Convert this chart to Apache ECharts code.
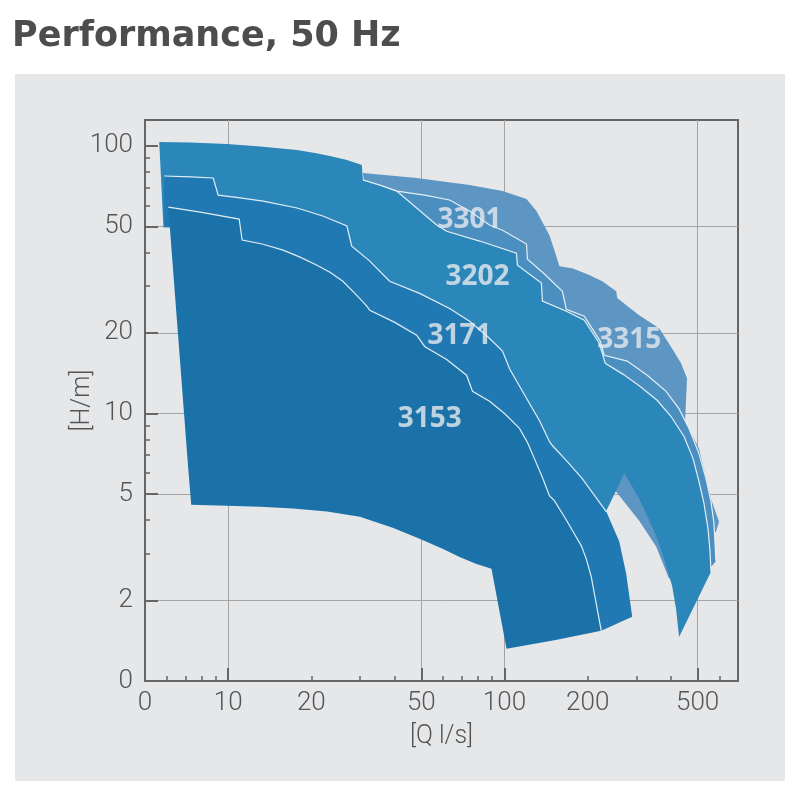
<!DOCTYPE html>
<html>
<head>
<meta charset="utf-8">
<title>Performance, 50 Hz</title>
<script src="https://cdn.jsdelivr.net/npm/echarts@6/dist/echarts.min.js"></script>
<style>
  html, body { margin: 0; padding: 0; background: #fff; }
  #chart { width: 800px; height: 800px; }
</style>
</head>
<body>
<div id="chart"></div>
<script>
// 泵型号（从后往前画）
const pumpNames = ['3315', '3301', '3202', '3171', '3153'];

// 每个型号的工作范围，点为 [Q l/s, H m]
// cap: 左上角外缘（无白线），upper: 上边界（白线），lower: 其余轮廓
const cap3315 = [];
const upper3315 = [
  [30.72, 79.2], [48.1, 75.9], [74.75, 71.4], [98.35, 67.8], [120.1, 63.3],
  [130.5, 57.1], [145.4, 46.4], [152.8, 39.7], [158, 35.5], [176, 34.9],
  [202.7, 32.9], [225.9, 31.2], [253.7, 28.6], [255.8, 27.0], [282.7, 24.9],
  [307.2, 23.3], [362.8, 20.8], [404.2, 17.5], [435.5, 15.4], [457.8, 13.5],
  [450.3, 9.33], [505.8, 7.39], [558.9, 4.80], [597.5, 3.94], [582.7, 3.61]
];
const lower3315 = [
  [465.5, 2.99], [394.2, 2.41], [353.8, 3.18], [307.2, 3.97], [253.7, 5.10],
  [220.3, 6.22], [95.9, 16.1], [41.8, 41.5], [31.24, 69.6]
];

const cap3301 = [];
const upper3301 = [
  [30.72, 74.6], [40.75, 67.8], [51.43, 65.5], [63.3, 62.8], [74.75, 57.1],
  [88.3, 50.6], [98.35, 48.4], [120.1, 43.0], [121.1, 37.7], [139.5, 33.2],
  [162, 28.6], [167.4, 24.5], [194.5, 23.1], [222.2, 18.6], [229.6, 16.5],
  [278, 15.7], [328.4, 13.9], [384.5, 12.1], [428.4, 10.4], [465.5, 8.79],
  [505.8, 7.08], [536.1, 5.71], [558.9, 4.68], [573.1, 3.87], [582.7, 2.81]
];
const lower3301 = [
  [558.9, 2.67], [465.5, 2.86], [333.9, 6.22], [158, 13.5], [63.3, 34.9],
  [35.4, 63.9], [30.72, 72.1]
];

const cap3202 = [
  [5.63, 103.5], [7.29, 103.1], [9.92, 101.7], [13.05, 99.6], [17.75, 96.6],
  [20.61, 94.1], [23.35, 91.7], [26.9, 88.6], [30.46, 84.9]
];
const upper3202 = [
  [30.72, 74.6], [35.38, 71.4], [40.75, 67.8], [48.1, 58.6], [56.8, 50.6],
  [61.74, 48.0], [81.24, 44.1], [110.5, 39.7], [111.4, 35.8], [136, 30.7],
  [137.2, 26.3], [167.4, 24.1], [194.5, 22.3], [220.3, 18.3], [231.6, 15.4],
  [269, 14.0], [307.2, 12.7], [356.8, 11.2], [400.8, 9.74], [446.5, 8.20],
  [481.3, 6.78], [505.8, 5.56], [527.3, 4.60], [545.1, 3.71], [554.2, 3.07],
  [558.9, 2.56]
];
const lower3202 = [
  [428.4, 1.46], [417.8, 1.86], [404.2, 2.27], [378.2, 2.86], [353.8, 3.49],
  [328.4, 4.15], [307.2, 4.80], [287.4, 5.42], [271.3, 5.96], [253.7, 5.15],
  [233.5, 4.33], [202.7, 4.04], [95.9, 11.4], [41.8, 27.0], [18.2, 49.3],
  [7.92, 56.1], [6.17, 49.7], [5.83, 49.7]
];

const cap3171 = [];
const upper3171 = [
  [5.87, 77.2], [7.29, 76.6], [8.83, 75.9], [9.2, 65.5], [11.05, 63.9],
  [13.38, 62.2], [17.75, 58.6], [22.0, 54.7], [26.9, 50.2], [28.0, 42.2],
  [32.55, 37.1], [38.4, 31.2], [49.3, 28.1], [63.3, 24.7], [74.75, 22.1],
  [86.8, 19.4], [98.35, 17.1], [104.3, 14.7], [120.1, 11.4], [133.8, 9.41],
  [145.4, 7.86], [149, 7.59], [168.8, 6.61], [191.2, 5.71], [233.5, 4.30]
];
const lower3171 = [
  [260.2, 3.32], [275.6, 2.52], [289.9, 1.74], [224, 1.54], [171.7, 2.86],
  [81.2, 8.79], [27.6, 22.7], [12.0, 38.1], [6.71, 47.2], [6.17, 49.7],
  [5.87, 49.7]
];

const cap3153 = [];
const upper3153 = [
  [6.07, 59.1], [7.92, 56.6], [10.96, 53.3], [11.23, 44.5], [13.27, 43.0],
  [15.8, 40.8], [18.2, 38.4], [20.96, 35.8], [23.35, 33.7], [26.0, 31.2],
  [28.74, 28.1], [31.75, 25.2], [32.55, 24.3], [40.08, 21.9], [48.1, 19.6],
  [51.4, 17.8], [61.74, 15.9], [72.9, 13.9], [76.6, 12.1], [88.3, 11.1],
  [100, 10], [113.3, 8.79], [121.1, 7.79], [128.3, 6.78], [137.2, 5.76],
  [145.4, 4.93], [151.5, 4.72], [164.7, 4.11], [178.9, 3.55], [189.7, 3.20],
  [197.7, 2.86], [206.1, 2.45], [213.1, 2.03], [224, 1.54]
];
const lower3153 = [
  [151.5, 1.42], [101.7, 1.32], [89.75, 2.63], [79.2, 2.74], [68.8, 2.91],
  [59.7, 3.12], [49.3, 3.40], [39.4, 3.74], [29.96, 4.11], [22.77, 4.30],
  [17.17, 4.41], [13.05, 4.48], [9.92, 4.52], [7.35, 4.56], [7.17, 6.22]
];

// 型号标注位置
const labelQ = [282.7, 74.7, 79.9, 68.8, 53.6];
const labelH = [18.8, 52.8, 32.3, 19.4, 9.5];

// 坐标轴
const xMin = 5, xMax = 700;
const yMin = 1, yMax = 125;
const xLabelValues = [5, 10, 20, 50, 100, 200, 500];
const xLabelText = ['0', '10', '20', '50', '100', '200', '500'];
const xMajorTicks = [10, 50, 100, 500];
const xMinorTicks = [6, 7, 8, 9, 20, 30, 40, 60, 70, 80, 90, 200, 300, 400, 600];
const yLabelValues = [1, 2, 5, 10, 20, 50, 100];
const yLabelText = ['0', '2', '5', '10', '20', '50', '100'];
const yMajorTicks = [2, 5, 10, 20, 50];
const yTopTicks = [100];
const yMinorTicks = [3, 4, 6, 7, 8, 9, 30, 40, 60, 70, 80, 90];

const ranges = {
  '3315': { cap: cap3315, upper: upper3315, lower: lower3315 },
  '3301': { cap: cap3301, upper: upper3301, lower: lower3301 },
  '3202': { cap: cap3202, upper: upper3202, lower: lower3202 },
  '3171': { cap: cap3171, upper: upper3171, lower: lower3171 },
  '3153': { cap: cap3153, upper: upper3153, lower: lower3153 }
};

const fillColors = {
  '3315': '#5d96c2',
  '3301': '#4b8ec0',
  '3202': '#2b86b9',
  '3171': '#2079b2',
  '3153': '#1a72a8'
};
const edgeColor = 'rgba(236,243,248,0.95)';
const textColor = '#555555';
const tickColor = '#666666';
const labelFont = 'Roboto, "Noto Sans", sans-serif';

const lookup = (values, texts) => (v) => {
  const i = values.findIndex((t) => Math.abs(t - v) / t < 1e-6);
  return i < 0 ? '' : texts[i];
};

// 对数轴的基础配置
function logAxis(dim, extra) {
  const isX = dim === 'x';
  return Object.assign({
    type: 'log',
    logBase: 10,
    min: isX ? xMin : yMin,
    max: isX ? xMax : yMax,
    position: isX ? 'bottom' : 'left',
    axisLine: { show: false },
    axisTick: { show: false },
    axisLabel: { show: false },
    splitLine: { show: false }
  }, extra);
}

const majorTick = (values) => ({
  show: true, inside: true, length: 13, customValues: values,
  lineStyle: { color: tickColor, width: 2 }
});
const minorTick = (values) => ({
  show: true, inside: true, length: 5, customValues: values,
  lineStyle: { color: tickColor, width: 1.5 }
});
const gridLine = { show: true, lineStyle: { color: '#a4a4a4', width: 1 } };
const axisLine = { show: true, lineStyle: { color: tickColor, width: 2 } };
const axisText = { fontFamily: labelFont, fontWeight: 300, fontSize: 26, color: textColor };
const nameText = { fontFamily: labelFont, fontWeight: 300, fontSize: 25, color: textColor };

function rangeSeries(name, withEdge) {
  const r = ranges[name];
  const outline = r.cap.concat(r.upper, r.lower);
  return {
    type: 'custom',
    name: name,
    coordinateSystem: 'cartesian2d',
    xAxisIndex: 0,
    yAxisIndex: 0,
    silent: true,
    data: [outline[0]],
    renderItem: (params, api) => {
      const pts = outline.map((p) => api.coord(p));
      const children = [{
        type: 'polygon',
        shape: { points: pts },
        style: { fill: fillColors[name] }
      }];
      if (withEdge) {
        children.push({
          type: 'polyline',
          shape: { points: r.upper.map((p) => api.coord(p)) },
          style: { stroke: edgeColor, lineWidth: 1.2, fill: null }
        });
      }
      return { type: 'group', children: children };
    }
  };
}

const chart = echarts.init(document.getElementById('chart'));

chart.setOption({
  animation: false,
  backgroundColor: '#ffffff',
  title: {
    text: 'Performance, 50 Hz',
    left: 12,
    top: 19,
    padding: 0,
    textStyle: {
      fontFamily: '"DejaVu Sans", sans-serif',
      fontWeight: 'bold',
      fontSize: 35,
      color: '#4d4d4d'
    }
  },
  graphic: [{
    type: 'rect',
    z: -10,
    silent: true,
    shape: { x: 15, y: 74, width: 770, height: 707 },
    style: { fill: '#e6e7e9' }
  }],
  grid: {
    left: 145,
    top: 120,
    right: 62,
    bottom: 119,
    show: true,
    backgroundColor: 'transparent',
    borderColor: tickColor,
    borderWidth: 2
  },
  xAxis: [
    logAxis('x', {
      name: '[Q l/s]',
      nameLocation: 'middle',
      nameGap: 43,
      nameMoveOverlap: false,
      nameTextStyle: nameText,
      axisLine: axisLine,
      axisTick: majorTick(xMajorTicks),
      splitLine: gridLine,
      axisLabel: Object.assign({
        show: true, margin: 9, customValues: xLabelValues,
        formatter: lookup(xLabelValues, xLabelText)
      }, axisText)
    }),
    logAxis('x', { axisTick: minorTick(xMinorTicks) })
  ],
  yAxis: [
    logAxis('y', {
      name: '[H/m]',
      nameLocation: 'middle',
      nameGap: 50,
      nameMoveOverlap: false,
      nameTextStyle: nameText,
      axisLine: axisLine,
      axisTick: majorTick(yMajorTicks),
      splitLine: gridLine,
      axisLabel: Object.assign({
        show: true, margin: 12, customValues: yLabelValues,
        formatter: lookup(yLabelValues, yLabelText)
      }, axisText)
    }),
    logAxis('y', { axisTick: minorTick(yMinorTicks) }),
    logAxis('y', { axisTick: majorTick(yTopTicks) })
  ],
  series: [
    rangeSeries('3315', false),
    rangeSeries('3301', true),
    rangeSeries('3202', true),
    rangeSeries('3171', true),
    rangeSeries('3153', true),
    {
      type: 'scatter',
      name: 'labels',
      xAxisIndex: 0,
      yAxisIndex: 0,
      silent: true,
      symbolSize: 0,
      data: pumpNames.map((n, i) => [labelQ[i], labelH[i], n]),
      label: {
        show: true,
        position: 'inside',
        formatter: (p) => p.value[2],
        fontFamily: '"Open Sans", sans-serif',
        fontWeight: 'bold',
        fontSize: 28,
        color: '#e7eaed'
      }
    }
  ]
});
</script>
</body>
</html>
